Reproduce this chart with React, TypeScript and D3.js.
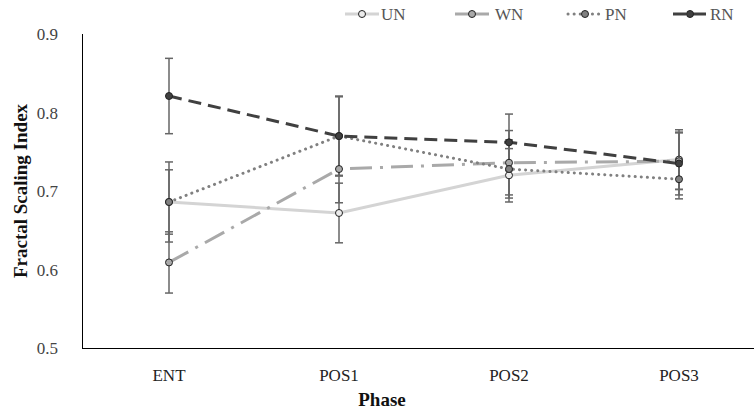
import { useEffect, useRef } from 'react';
import { select, scaleLinear, scalePoint, line } from 'd3';

const phases = ['ENT', 'POS1', 'POS2', 'POS3'];
const yTicks = [0.5, 0.6, 0.7, 0.8, 0.9];

const seriesNames = ['UN', 'WN', 'PN', 'RN'];
const unValues = [0.686, 0.672, 0.72, 0.74];
const wnValues = [0.609, 0.728, 0.736, 0.738];
const pnValues = [0.686, 0.77, 0.728, 0.715];
const rnValues = [0.821, 0.77, 0.762, 0.735];

const unErrors = [0.041, 0.038, 0.034, 0.038];
const wnErrors = [0.039, 0.043, 0.041, 0.036];
const pnErrors = [0.051, 0.05, 0.037, 0.025];
const rnErrors = [0.048, 0.051, 0.036, 0.04];

const styles: Record<string, { stroke: string; dash: string; cap: string; width: number; fill: string }> = {
  UN: { stroke: '#d4d4d4', dash: '', cap: 'butt', width: 3, fill: '#ececec' },
  WN: { stroke: '#a9a9a9', dash: '22,8,3,8', cap: 'butt', width: 3, fill: '#a9a9a9' },
  PN: { stroke: '#808080', dash: '0.1,6', cap: 'round', width: 3, fill: '#808080' },
  RN: { stroke: '#404040', dash: '13,7', cap: 'butt', width: 3, fill: '#404040' },
};

const W = 754;
const H = 411;
const font = '"Liberation Serif", "Times New Roman", serif';

export default function App() {
  const ref = useRef<SVGSVGElement>(null);

  useEffect(() => {
    const svg = select(ref.current);
    svg.selectAll('*').remove();

    const x = scalePoint<string>().domain(phases).range([169, 679]);
    const y = scaleLinear().domain([0.5, 0.9]).range([348, 34]);

    const values: Record<string, number[]> = { UN: unValues, WN: wnValues, PN: pnValues, RN: rnValues };
    const errors: Record<string, number[]> = { UN: unErrors, WN: wnErrors, PN: pnErrors, RN: rnErrors };

    // axes
    svg.append('line').attr('x1', 82.5).attr('x2', 82.5).attr('y1', 34).attr('y2', 348.5)
      .attr('stroke', '#000').attr('stroke-width', 1);
    svg.append('line').attr('x1', 82).attr('x2', W).attr('y1', 348.5).attr('y2', 348.5)
      .attr('stroke', '#000').attr('stroke-width', 1);

    svg.selectAll('.ytick').data(yTicks).join('text')
      .attr('class', 'ytick')
      .attr('x', 58).attr('y', (d) => y(d) + 6)
      .attr('text-anchor', 'end')
      .attr('font-family', font).attr('font-size', 17).attr('fill', '#444')
      .text((d) => d.toFixed(1));

    svg.selectAll('.xtick').data(phases).join('text')
      .attr('class', 'xtick')
      .attr('x', (d) => x(d)!).attr('y', 381)
      .attr('text-anchor', 'middle')
      .attr('font-family', font).attr('font-size', 17).attr('fill', '#222')
      .text((d) => d);

    svg.append('text').attr('x', 382).attr('y', 406).attr('text-anchor', 'middle')
      .attr('font-family', font).attr('font-size', 19).attr('font-weight', 'bold').attr('fill', '#111')
      .text('Phase');

    svg.append('text').attr('transform', `translate(27, ${y(0.7)}) rotate(-90)`)
      .attr('text-anchor', 'middle')
      .attr('font-family', font).attr('font-size', 19).attr('font-weight', 'bold').attr('fill', '#111')
      .text('Fractal Scaling Index');

    const lineGen = line<number>().x((_, i) => x(phases[i])!).y((d) => y(d));

    // lines
    seriesNames.forEach((s) => {
      const st = styles[s];
      svg.append('path').datum(values[s]).attr('d', lineGen)
        .attr('fill', 'none').attr('stroke', st.stroke).attr('stroke-width', st.width)
        .attr('stroke-dasharray', st.dash || null).attr('stroke-linecap', st.cap);
    });

    // error bars
    seriesNames.forEach((s) => {
      const g = svg.append('g');
      values[s].forEach((v, i) => {
        const cx = x(phases[i])!;
        const lo = y(v - errors[s][i]);
        const hi = y(v + errors[s][i]);
        g.append('line').attr('x1', cx).attr('x2', cx).attr('y1', lo).attr('y2', hi)
          .attr('stroke', '#666').attr('stroke-width', 1.5);
        [lo, hi].forEach((yy) => {
          g.append('line').attr('x1', cx - 4).attr('x2', cx + 4).attr('y1', yy).attr('y2', yy)
            .attr('stroke', '#666').attr('stroke-width', 1.5);
        });
      });
    });

    // markers
    seriesNames.forEach((s) => {
      svg.selectAll(`.m-${s}`).data(values[s]).join('circle')
        .attr('class', `m-${s}`)
        .attr('cx', (_, i) => x(phases[i])!).attr('cy', (d) => y(d)).attr('r', 3.5)
        .attr('fill', styles[s].fill).attr('stroke', '#222').attr('stroke-width', 1);
    });

    // legend
    const legendX = [345, 455, 568, 673];
    seriesNames.forEach((s, i) => {
      const st = styles[s];
      const lx = legendX[i];
      const g = svg.append('g').attr('transform', `translate(${lx}, 14)`);
      g.append('line').attr('x1', 0).attr('x2', 34).attr('y1', 0).attr('y2', 0)
        .attr('stroke', st.stroke).attr('stroke-width', st.width)
        .attr('stroke-dasharray', s === 'WN' ? null : st.dash || null).attr('stroke-linecap', st.cap);
      g.append('circle').attr('cx', 17).attr('cy', 0).attr('r', 3.5)
        .attr('fill', st.fill).attr('stroke', '#222').attr('stroke-width', 1);
      g.append('text').attr('x', s === 'UN' ? 36 : s === 'WN' ? 40 : 37).attr('y', 6)
        .attr('font-family', font).attr('font-size', 17).attr('fill', '#555')
        .text(s);
    });
  }, []);

  return (
    <svg ref={ref} width={W} height={H}
      style={{ position: 'absolute', left: 0, top: 0, background: '#fff' }} />
  );
}
